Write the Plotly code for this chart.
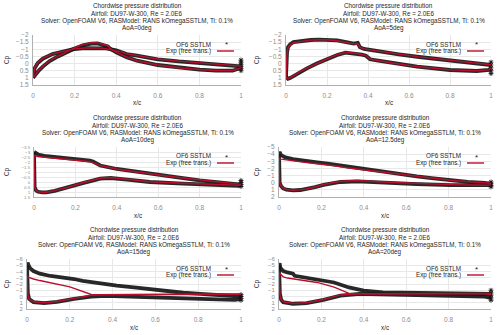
"""
Chordwise Cp distributions, DU97-W-300 at Re = 2.0E6:
OpenFOAM SSTLM results against free-transition experiment, six angles of attack.
"""

import plotly.graph_objects as go

W, H = 500, 335

AOA_LABELS = ["0deg", "5deg", "10deg", "12.5deg", "15deg", "20deg"]

# ---- AoA = 0 deg ----
X_UP_0 = [0, 0.008, 0.023, 0.047, 0.094, 0.156, 0.2, 0.25, 0.3, 0.35, 0.4, 0.43, 0.45, 0.5, 0.6, 0.7, 0.8, 0.9, 1.0]
CFD_UP_0 = [1.0, 0.32, -0.04, -0.34, -0.66, -0.9, -1.02, -1.08, -1.1, -1.06, -0.92, -0.8, -0.66, -0.55, -0.3, -0.15, -0.04, 0.08, 0.2]
EXP_UP_0 = [1.0, 0.3, -0.07, -0.37, -0.68, -0.91, -1.03, -1.09, -1.1, -1.05, -0.9, -0.78, -0.68, -0.56, -0.32, -0.17, -0.05, 0.07, 0.18]
X_LO_0 = [0, 0.01, 0.03, 0.05, 0.08, 0.12, 0.156, 0.2, 0.24, 0.28, 0.31, 0.34, 0.36, 0.37, 0.4, 0.45, 0.5, 0.6, 0.72, 0.8, 0.88, 0.96, 1.0]
CFD_LO_0 = [1.0, 0.8, 0.45, 0.18, -0.17, -0.5, -0.78, -1.05, -1.28, -1.4, -1.41, -1.3, -1.2, -1.05, -0.78, -0.45, -0.2, 0.1, 0.33, 0.42, 0.49, 0.5, 0.3]
EXP_LO_0 = [1.0, 0.78, 0.43, 0.15, -0.2, -0.53, -0.81, -1.1, -1.34, -1.46, -1.45, -1.33, -1.25, -1.06, -0.8, -0.46, -0.2, 0.1, 0.33, 0.42, 0.49, 0.48, 0.3]
TE_0 = [-0.25, -0.1, 0.05, 0.2, 0.35, 0.5]

# ---- AoA = 5 deg ----
X_UP_5 = [0, 0.002, 0.005, 0.01, 0.02, 0.036, 0.08, 0.12, 0.16, 0.2, 0.25, 0.3, 0.33, 0.35, 0.36, 0.38, 0.45, 0.55, 0.65, 0.75, 0.85, 0.95, 1.0]
CFD_UP_5 = [0.9, -0.2, -0.8, -1.15, -1.35, -1.5, -1.6, -1.65, -1.68, -1.68, -1.62, -1.48, -1.4, -1.45, -1.15, -1.02, -0.85, -0.65, -0.46, -0.3, -0.15, 0.02, 0.1]
EXP_UP_5 = [0.9, -0.1, -0.72, -1.1, -1.3, -1.47, -1.58, -1.64, -1.67, -1.67, -1.6, -1.47, -1.38, -1.4, -1.15, -1.03, -0.87, -0.66, -0.47, -0.31, -0.16, 0.0, 0.08]
X_LO_5 = [0, 0.005, 0.01, 0.02, 0.04, 0.07, 0.1, 0.15, 0.2, 0.25, 0.29, 0.33, 0.37, 0.39, 0.41, 0.45, 0.51, 0.64, 0.8, 0.93, 0.99, 1.0]
CFD_LO_5 = [0.9, 1.05, 1.07, 1.02, 0.85, 0.56, 0.35, 0.0, -0.3, -0.6, -0.76, -0.72, -0.62, -0.55, -0.3, -0.2, -0.05, 0.22, 0.45, 0.52, 0.45, 0.33]
EXP_LO_5 = [0.9, 1.03, 1.05, 1.0, 0.83, 0.54, 0.33, -0.02, -0.32, -0.62, -0.78, -0.74, -0.64, -0.57, -0.32, -0.21, -0.06, 0.21, 0.44, 0.5, 0.44, 0.3]
TE_5 = [-0.1, 0.1, 0.3, 0.5, 0.7]

# ---- AoA = 10 deg ----
X_UP_10 = [0, 0.005, 0.02, 0.05, 0.1, 0.16, 0.22, 0.27, 0.285, 0.3, 0.32, 0.4, 0.48, 0.56, 0.64, 0.72, 0.8, 0.88, 0.96, 1.0]
CFD_UP_10 = [-3.0, -2.95, -2.75, -2.62, -2.52, -2.39, -2.25, -2.13, -2.05, -1.85, -1.65, -1.3, -1.05, -0.8, -0.59, -0.38, -0.17, 0.0, 0.16, 0.26]
EXP_UP_10 = [-2.65, -2.62, -2.55, -2.48, -2.4, -2.3, -2.15, -2.03, -1.96, -1.82, -1.65, -1.3, -1.05, -0.8, -0.6, -0.4, -0.2, -0.02, 0.14, 0.24]
X_LO_10 = [0, 0.001, 0.003, 0.01, 0.02, 0.04, 0.06, 0.1, 0.16, 0.24, 0.32, 0.37, 0.45, 0.56, 0.72, 0.88, 0.99, 1.0]
CFD_LO_10 = [-3.0, -1.0, 0.5, 0.85, 0.98, 1.04, 1.04, 0.88, 0.58, 0.09, -0.33, -0.4, -0.23, 0.0, 0.16, 0.26, 0.39, 0.3]
EXP_LO_10 = [-2.65, -0.9, 0.5, 0.85, 0.97, 1.02, 1.02, 0.86, 0.55, 0.05, -0.38, -0.45, -0.28, -0.03, 0.13, 0.23, 0.33, 0.26]
TE_10 = [-0.15, 0.05, 0.25, 0.45]

# ---- AoA = 12.5 deg ----
X_UP_12 = [0, 0.003, 0.01, 0.03, 0.066, 0.12, 0.18, 0.23, 0.26, 0.27, 0.33, 0.41, 0.49, 0.57, 0.65, 0.73, 0.81, 0.89, 0.97, 1.0]
CFD_UP_12 = [-4.0, -4.3, -3.85, -3.55, -3.3, -3.05, -2.85, -2.68, -2.55, -2.42, -2.16, -1.82, -1.48, -1.18, -0.88, -0.6, -0.33, -0.12, 0.03, 0.12]
EXP_UP_12 = [-3.3, -3.35, -3.3, -3.2, -3.05, -2.85, -2.65, -2.5, -2.4, -2.33, -2.05, -1.75, -1.45, -1.15, -0.87, -0.6, -0.35, -0.15, 0.0, 0.08]
X_LO_12 = [0, 0.001, 0.003, 0.01, 0.02, 0.035, 0.066, 0.1, 0.13, 0.17, 0.21, 0.29, 0.37, 0.49, 0.65, 0.81, 0.97, 1.0]
CFD_LO_12 = [-4.0, -2.0, 0.0, 0.5, 0.8, 0.98, 1.08, 1.02, 0.9, 0.62, 0.3, -0.1, -0.2, -0.01, 0.2, 0.35, 0.44, 0.35]
EXP_LO_12 = [-3.3, -1.8, 0.0, 0.5, 0.78, 0.95, 1.05, 1.0, 0.88, 0.6, 0.25, -0.2, -0.3, -0.1, 0.12, 0.27, 0.35, 0.3]
TE_12 = [-0.1, 0.15, 0.4, 0.58]

# ---- AoA = 15 deg ----
X_UP_15 = [0, 0.003, 0.008, 0.015, 0.03, 0.06, 0.11, 0.16, 0.19, 0.2, 0.22, 0.26, 0.3, 0.34, 0.42, 0.5, 0.58, 0.65, 0.73, 0.81, 0.89, 0.97, 1.0]
CFD_UP_15 = [-5.0, -5.4, -4.95, -4.5, -4.07, -3.65, -3.28, -3.1, -3.02, -2.95, -2.8, -2.5, -2.3, -2.08, -1.75, -1.45, -1.12, -0.82, -0.6, -0.41, -0.25, -0.12, 0.0]
EXP_UP_15 = [-3.0, -3.15, -3.05, -2.95, -2.8, -2.55, -2.2, -1.85, -1.62, -1.55, -1.3, -0.8, -0.32, -0.3, -0.3, -0.3, -0.32, -0.33, -0.35, -0.36, -0.38, -0.4, -0.4]
X_LO_15 = [0, 0.001, 0.004, 0.01, 0.03, 0.08, 0.14, 0.22, 0.3, 0.37, 0.5, 0.65, 0.81, 0.97, 1.0]
CFD_LO_15 = [-5.0, -3.0, -0.5, 0.4, 0.9, 1.06, 0.85, 0.38, 0.01, -0.09, 0.01, 0.22, 0.38, 0.54, 0.43]
EXP_LO_15 = [-3.0, -1.5, -0.2, 0.4, 0.85, 1.0, 0.8, 0.3, -0.2, -0.28, -0.27, -0.28, -0.3, -0.33, -0.35]
TE_15 = [-0.3, 0.0, 0.3, 0.6]

# ---- AoA = 20 deg ----
X_UP_20 = [0, 0.003, 0.006, 0.02, 0.04, 0.066, 0.074, 0.12, 0.18, 0.26, 0.33, 0.4, 0.49, 0.65, 0.81, 0.95, 1.0]
CFD_UP_20 = [-5.0, -5.3, -4.6, -4.07, -3.85, -3.65, -3.3, -3.05, -2.76, -2.24, -1.45, -0.93, -0.67, -0.56, -0.51, -0.45, -0.4]
EXP_UP_20 = [-3.6, -3.8, -3.6, -3.15, -2.95, -2.8, -2.75, -2.55, -2.25, -1.5, -0.5, -0.45, -0.45, -0.47, -0.5, -0.5, -0.5]
X_LO_20 = [0, 0.001, 0.004, 0.01, 0.02, 0.066, 0.13, 0.21, 0.29, 0.38, 0.5, 0.65, 0.81, 0.97, 1.0]
CFD_LO_20 = [-5.0, -3.0, -0.5, 0.5, 0.9, 1.16, 1.06, 0.54, -0.14, -0.41, -0.3, -0.2, -0.1, 0.01, 0.22]
EXP_LO_20 = [-3.6, -2.0, -0.3, 0.5, 0.85, 1.1, 1.0, 0.48, -0.25, -0.45, -0.45, -0.45, -0.45, -0.45, -0.3]
TE_20 = [-1.0, -0.6, -0.2, 0.2, 0.6]

X_TICKS = [0, 0.2, 0.4, 0.6, 0.8, 1]

CASES = [
    (X_UP_0, CFD_UP_0, EXP_UP_0, X_LO_0, CFD_LO_0, EXP_LO_0, TE_0),
    (X_UP_5, CFD_UP_5, EXP_UP_5, X_LO_5, CFD_LO_5, EXP_LO_5, TE_5),
    (X_UP_10, CFD_UP_10, EXP_UP_10, X_LO_10, CFD_LO_10, EXP_LO_10, TE_10),
    (X_UP_12, CFD_UP_12, EXP_UP_12, X_LO_12, CFD_LO_12, EXP_LO_12, TE_12),
    (X_UP_15, CFD_UP_15, EXP_UP_15, X_LO_15, CFD_LO_15, EXP_LO_15, TE_15),
    (X_UP_20, CFD_UP_20, EXP_UP_20, X_LO_20, CFD_LO_20, EXP_LO_20, TE_20),
]

# plot boxes in pixels: (left, right, top, bottom), y ranges, tick steps, tick font
BOXES = [(33, 241, 35, 85), (286, 491, 35, 85),
         (34, 241, 147, 197), (279, 491, 147, 197),
         (27, 241, 259, 309), (279, 491, 259, 309)]
Y_RANGES = [(1.5, -2, 0.5, 6.5), (1.5, -2, 0.5, 6.5), (1.5, -3.5, 0.5, 4.4),
            (2, -5, 1, 6.5), (2, -6, 1, 6), (2, -6, 1, 6)]

FONT = "Liberation Sans"
BLACK = "rgba(22,22,22,0.92)"
RED = "#b80f2c"
TXT = "#262626"
TICK = "#8c8c8c"
FS = 6.3


def px(x):
    return x / W


def py(y):
    return 1 - y / H


fig = go.Figure()
annotations = []
shapes = []

for i, (case, box, yr) in enumerate(zip(CASES, BOXES, Y_RANGES)):
    xu, cu, eu, xl, cl, el, te = case
    n = "" if i == 0 else str(i + 1)
    xa, ya = "x" + n, "y" + n
    left, right, top, bottom = box

    for xs, ys in ((xu, cu), (xl, cl)):
        fig.add_trace(go.Scatter(x=xs, y=ys, xaxis=xa, yaxis=ya, mode="lines",
                                 line=dict(color=BLACK, width=3.8), showlegend=False))
    fig.add_trace(go.Scatter(x=[1] * len(te), y=te, xaxis=xa, yaxis=ya, mode="markers",
                             marker=dict(symbol="asterisk-open", size=4, color=BLACK,
                                         line=dict(color=BLACK, width=1)),
                             cliponaxis=False, showlegend=False))
    for xs, ys in ((xu, eu), (xl, el)):
        fig.add_trace(go.Scatter(x=xs, y=ys, xaxis=xa, yaxis=ya, mode="lines",
                                 line=dict(color=RED, width=1.4), showlegend=False))

    axis_common = dict(showgrid=True, gridcolor="#e8e8e8", gridwidth=1,
                       zeroline=False, showline=True, linecolor="#b0b0b0",
                       linewidth=1, ticks="")
    fig.update_layout(**{
        "xaxis" + n: dict(domain=[px(left), px(right)], anchor=ya, range=[0, 1],
                          tickvals=X_TICKS, ticktext=[f"{v:g}" for v in X_TICKS],
                          ticklabelstandoff=4,
                          tickfont=dict(family=FONT, size=6.5, color=TICK),
                          **axis_common),
        "yaxis" + n: dict(domain=[py(bottom), py(top)], anchor=xa,
                          range=[yr[0], yr[1]], dtick=yr[2], tick0=0,
                          ticklabelstandoff=2,
                          tickfont=dict(family=FONT, size=yr[3], color=TICK),
                          **axis_common),
    })

    cx = (left + right) / 2
    cell_top = (i // 2) * 112
    title_lines = [
        "Chordwise pressure distribution",
        "Airfoil: DU97-W-300, Re = 2.0E6",
        "Solver: OpenFOAM V6, RASModel: RANS kOmegaSSTLM, Ti: 0.1%",
        "AoA=" + AOA_LABELS[i],
    ]
    for k, t in enumerate(title_lines):
        annotations.append(dict(text=t, x=px(cx), y=py(cell_top + 6 + k * 7.3),
                                xref="paper", yref="paper", showarrow=False,
                                xanchor="center", yanchor="middle",
                                font=dict(family=FONT, size=FS, color=TXT)))
    annotations.append(dict(text="x/c", x=px(cx), y=py(cell_top + 103),
                            xref="paper", yref="paper", showarrow=False,
                            xanchor="center", yanchor="middle",
                            font=dict(family=FONT, size=FS, color=TXT)))
    cell_left = (i % 2) * 250
    annotations.append(dict(text="Cp", x=px(cell_left + 7), y=py((top + bottom) / 2),
                            xref="paper", yref="paper", showarrow=False, textangle=-90,
                            xanchor="center", yanchor="middle",
                            font=dict(family=FONT, size=FS, color=TXT)))

    # gnuplot-style key: text on the left, sample on the right
    key_y = [top + 9, top + 16]
    for t, yk in zip(["OF6 SSTLM", "Exp (free trans.)"], key_y):
        annotations.append(dict(text=t, x=px(right - 28), y=py(yk),
                                xref="paper", yref="paper", showarrow=False,
                                xanchor="right", yanchor="middle",
                                font=dict(family=FONT, size=FS, color=TXT)))
    annotations.append(dict(text="*", x=px(right - 15), y=py(key_y[0] + 1),
                            xref="paper", yref="paper", showarrow=False,
                            xanchor="center", yanchor="middle",
                            font=dict(family=FONT, size=8, color="#222")))
    shapes.append(dict(type="line", xref="paper", yref="paper",
                       x0=px(right - 24), x1=px(right - 7),
                       y0=py(key_y[1]), y1=py(key_y[1]),
                       line=dict(color=RED, width=1.4)))

fig.update_layout(
    template="none",
    width=W, height=H,
    margin=dict(l=0, r=0, t=0, b=0),
    paper_bgcolor="white", plot_bgcolor="white",
    annotations=annotations, shapes=shapes,
    showlegend=False,
)

# the page's default body margin would push the figure 8px down and right
fig.write_html("out.html", config={"displayModeBar": False},
               post_script="document.body.style.margin='0px';")
